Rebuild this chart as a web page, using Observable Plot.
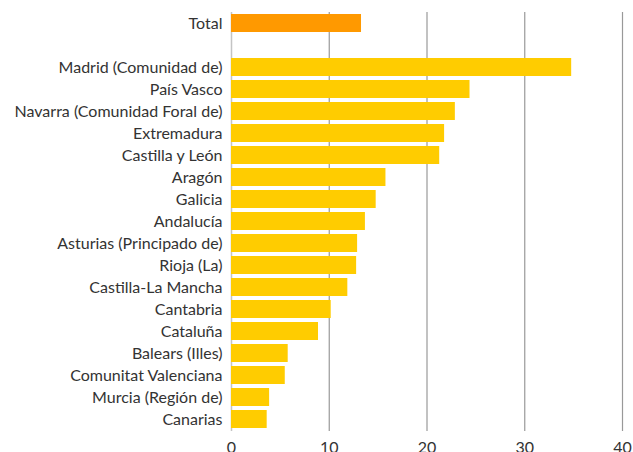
<!DOCTYPE html>
<html>
<head>
<meta charset="utf-8">
<script src="https://cdn.jsdelivr.net/npm/d3@7"></script>
<script src="https://cdn.jsdelivr.net/npm/@observablehq/plot@0.6"></script>
<style>
  html, body { margin: 0; padding: 0; background: #fff; }
  svg { display: block; }
</style>
</head>
<body>
<div id="chart"></div>
<script>
const regions = [
  "Total",
  "Madrid (Comunidad de)",
  "País Vasco",
  "Navarra (Comunidad Foral de)",
  "Extremadura",
  "Castilla y León",
  "Aragón",
  "Galicia",
  "Andalucía",
  "Asturias (Principado de)",
  "Rioja (La)",
  "Castilla-La Mancha",
  "Cantabria",
  "Cataluña",
  "Balears (Illes)",
  "Comunitat Valenciana",
  "Murcia (Región de)",
  "Canarias"
];
const values = [13.3, 34.8, 24.4, 22.9, 21.8, 21.3, 15.8, 14.8, 13.7, 12.9, 12.8, 11.9, 10.2, 8.9, 5.8, 5.5, 3.9, 3.65];
const xTicks = [0, 10, 20, 30, 40];

const GAP = "\u200b";
const data = regions.map((r, i) => ({region: r, value: values[i], total: r === "Total"}));
const domain = [regions[0], GAP, ...regions.slice(1)];

const chart = Plot.plot({
  width: 633,
  height: 452,
  marginLeft: 231,
  marginRight: 11,
  marginTop: 12,
  marginBottom: 21,
  style: {fontFamily: "Lato, 'Open Sans', sans-serif", fontSize: "16px", color: "#333", background: "#fff"},
  x: {domain: [0, 40], ticks: xTicks, label: null, tickSize: 0, tickPadding: 10},
  y: {domain, label: null, paddingInner: 0.18, paddingOuter: 0.09, tickSize: 0, tickPadding: 9, tickFormat: d => d === GAP ? "" : d},
  marks: [
    Plot.ruleX(xTicks.filter(d => d > 0), {stroke: "#999", strokeWidth: 1.2, strokeOpacity: 1}),
    Plot.ruleX([0], {stroke: "#c4c4c4", strokeWidth: 1.5}),
    Plot.barX(data, {x: "value", y: "region", fill: d => d.total ? "#FF9900" : "#FFCC00"})
  ]
});
document.getElementById("chart").appendChild(chart);
</script>
</body>
</html>
